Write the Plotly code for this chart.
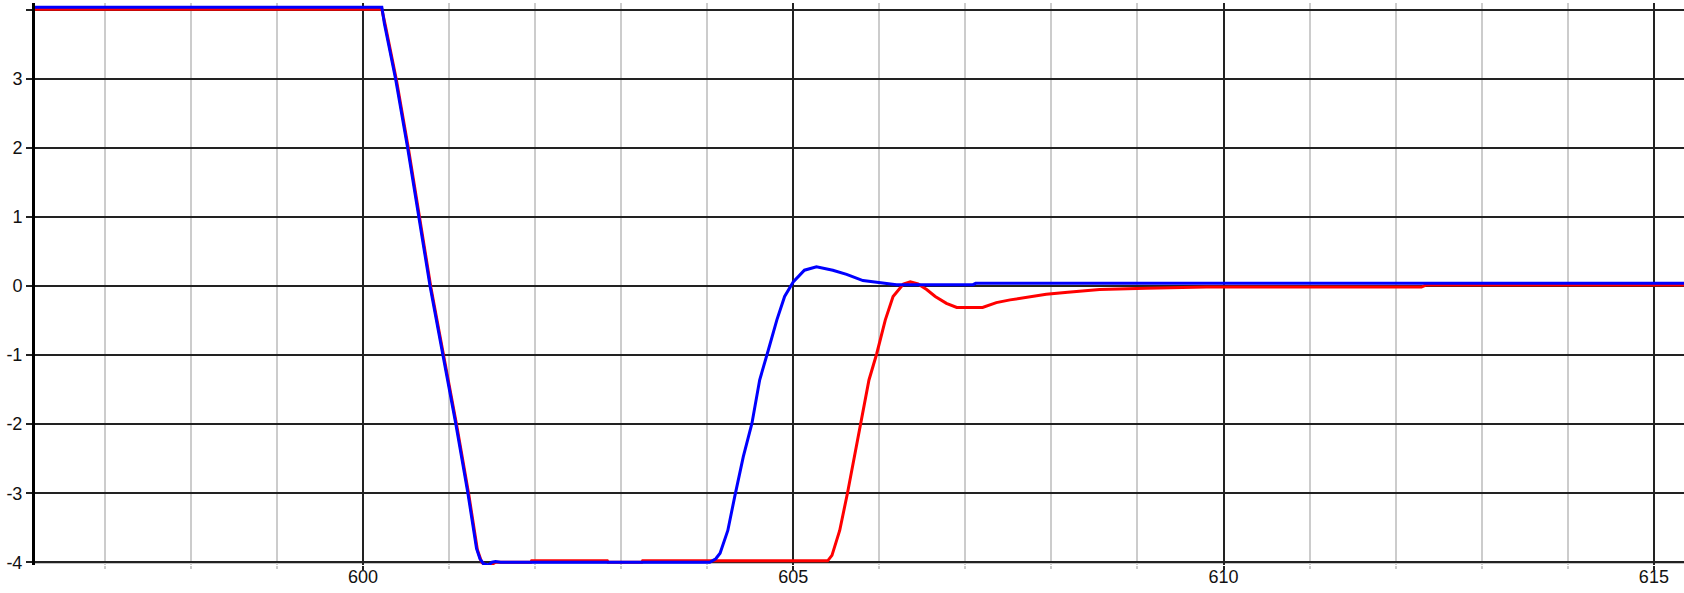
import plotly.graph_objects as go

# ---- data ----
red_x = [596.19, 600.22, 600.26, 600.39, 600.53, 600.66, 600.79, 600.94, 601.09, 601.23, 601.33,
         601.38, 601.44, 601.49, 601.54, 601.6, 601.95, 601.96, 602.84, 602.85, 603.24, 603.25,
         605.40, 605.45, 605.54, 605.63, 605.71, 605.79, 605.88, 605.97, 606.07, 606.16, 606.28,
         606.36, 606.45, 606.55, 606.65, 606.78, 606.90, 607.20, 607.36, 607.52, 607.69, 607.94,
         608.19, 608.56, 609.10, 609.80, 612.30, 612.35, 615.35]
red_y = [4.01, 4.01, 3.78, 2.98, 1.98, 0.98, -0.02, -1.02, -2.02, -3.02, -3.82,
         -4.0, -4.06, -4.04, -4.0, -4.0, -4.0, -3.98, -3.98, -4.0, -4.0, -3.98,
         -3.98, -3.9, -3.54, -3.0, -2.47, -1.99, -1.36, -0.98, -0.49, -0.15, 0.03,
         0.06, 0.03, -0.05, -0.15, -0.25, -0.31, -0.31, -0.24, -0.20, -0.17, -0.12,
         -0.09, -0.05, -0.03, -0.015, -0.015, 0.015, 0.015]

blue_x = [596.19, 600.22, 600.25, 600.38, 600.52, 600.65, 600.78, 600.93, 601.08, 601.22, 601.32,
          601.36, 601.40, 601.46, 601.50, 601.54, 601.60, 604.03, 604.10, 604.15, 604.24, 604.32,
          604.42, 604.52, 604.61, 604.71, 604.81, 604.90, 605.00, 605.13, 605.27, 605.46, 605.62,
          605.81, 606.01, 606.20, 607.09, 607.12, 615.35]
blue_y = [4.04, 4.04, 3.8, 3.0, 2.0, 1.0, 0.0, -1.0, -2.0, -3.0, -3.8,
          -3.95, -4.02, -4.04, -4.0, -3.99, -4.0, -4.0, -3.95, -3.87, -3.54, -3.05,
          -2.47, -1.99, -1.36, -0.93, -0.49, -0.15, 0.06, 0.23, 0.28, 0.23, 0.17,
          0.08, 0.05, 0.02, 0.02, 0.04, 0.04]

y_ticks = [-4, -3, -2, -1, 0, 1, 2, 3, 4]
y_labels = ["-4", "-3", "-2", "-1", "0", "1", "2", "3", ""]
x_range = [596.19, 615.35]
y_range = [-4.04, 4.1]

FONT = "Liberation Sans, Arial, sans-serif"
TXT = "#111111"

fig = go.Figure()
fig.add_trace(go.Scatter(x=red_x, y=red_y, mode="lines",
                         line=dict(color="#ff0000", width=3), showlegend=False))
fig.add_trace(go.Scatter(x=blue_x, y=blue_y, mode="lines",
                         line=dict(color="#0000ff", width=3), showlegend=False))

fig.update_layout(
    width=1684, height=593,
    margin=dict(l=35, r=0, t=3, b=28, autoexpand=False),
    paper_bgcolor="white", plot_bgcolor="white",
    showlegend=False,
    xaxis=dict(
        range=x_range, tick0=600, dtick=5,
        showgrid=True, gridcolor="#222222", gridwidth=1.5,
        zeroline=False, showline=False, automargin=False,
        ticks="outside", ticklen=4, tickwidth=1.5, tickcolor="#222222",
        ticklabelstandoff=-9,
        tickfont=dict(family=FONT, size=18, color=TXT),
        minor=dict(dtick=1, tick0=600, showgrid=True, gridcolor="#cccccc", gridwidth=1.5,
                   ticks="outside", ticklen=3, tickcolor="#cccccc", tickwidth=1.5),
    ),
    yaxis=dict(
        range=y_range, tickmode="array", tickvals=y_ticks, ticktext=y_labels,
        showgrid=True, gridcolor="#222222", gridwidth=1.5,
        zeroline=False, showline=True, linecolor="#000000", linewidth=3, automargin=False,
        ticks="outside", ticklen=6, tickwidth=1.5, tickcolor="#222222",
        tickfont=dict(family=FONT, size=18, color=TXT),
    ),
    shapes=[dict(type="line", xref="paper", x0=0, x1=1, yref="y", y0=-4, y1=-4,
                 line=dict(color="#111111", width=2), layer="below")],
    annotations=[dict(text="4.2", xref="paper", x=0, xanchor="right", xshift=-7,
                      yref="y", y=4.2, yanchor="middle", showarrow=False,
                      font=dict(family=FONT, size=18, color=TXT))],
)

fig.write_html(
    "out.html",
    config={"displayModeBar": False},
    post_script="document.body.style.margin='0';document.body.style.padding='0';"
                "document.body.style.overflow='hidden';",
)
